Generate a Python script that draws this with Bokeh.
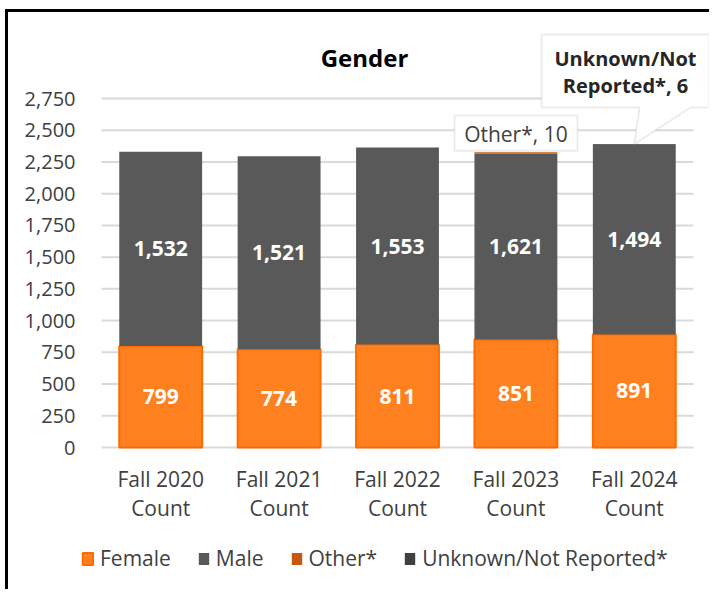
from bokeh.plotting import figure
from bokeh.models import (ColumnDataSource, Range1d, FixedTicker, Legend, LegendItem,
                          LabelSet, Label, BoxAnnotation, PolyAnnotation, NumeralTickFormatter)
from bokeh.core.properties import value
from bokeh.embed import file_html
from bokeh.resources import INLINE

# ---------------- data ----------------
categories = ["Fall 2020\nCount", "Fall 2021\nCount", "Fall 2022\nCount", "Fall 2023\nCount", "Fall 2024\nCount"]
female = [799, 774, 811, 851, 891]
male = [1532, 1521, 1553, 1465, 1494]          # bar heights as drawn
male_label_text = ["1,532", "1,521", "1,553", "1,621", "1,494"]  # labels as printed
other = [0, 0, 0, 10, 0]
unknown = [0, 0, 0, 0, 6]
series = ["Female", "Male", "Other*", "Unknown/Not Reported*"]
y_ticks = [0, 250, 500, 750, 1000, 1250, 1500, 1750, 2000, 2250, 2500, 2750]

FONT = "Open Sans"
idx = list(range(len(categories)))
totals = [f + m + o + u for f, m, o, u in zip(female, male, other, unknown)]

# ---------------- geometry (page pixels) ----------------
OX, OY = 8, 12                 # canvas origin on the page (after border)
W, H = 712 - OX, 592 - OY
frame_left_page = 81
cat0_page, px_per_cat = 160.2, 118.4
zero_page, px_per_unit = 447, 349 / y_ticks[-1]


def xd(page_x):
    return (page_x - cat0_page) / px_per_cat


def yd(page_y):
    return (zero_page - page_y) / px_per_unit


src = ColumnDataSource(dict(x=idx, female=female, male=male, other=other, unknown=unknown))

p = figure(width=W, height=H, output_backend="svg", toolbar_location=None,
           x_range=Range1d(xd(frame_left_page), xd(712)), y_range=Range1d(yd(592), yd(OY)),
           min_border_left=frame_left_page - OX, min_border_right=0, min_border_top=0,
           min_border_bottom=0)
p.outline_line_color = None
p.background_fill_color = "white"
p.border_fill_color = "white"
p.styles = {"margin-left": "5px", "margin-top": "9px",
            "border-left": "3px solid black", "border-top": "3px solid black"}

# gridlines over the category span
p.segment(x0=[-0.5] * len(y_ticks), x1=[len(categories) - 0.5] * len(y_ticks),
          y0=y_ticks, y1=y_ticks, line_color="#D9D9D9", line_width=2)

renderers = p.vbar_stack(["female", "male", "other", "unknown"], x="x", width=0.7, source=src,
                         fill_color=["#FF801F", "#595959", "#C65911", "#404040"],
                         line_color=["#FF6A00", "#595959", "#C65911", "#404040"],
                         line_width=[2, 0, 0, 0],
                         line_alpha=[1, 0, 0, 0])

# y axis
p.yaxis.ticker = FixedTicker(ticks=y_ticks)
p.yaxis.formatter = NumeralTickFormatter(format="0,0")
p.yaxis.axis_line_color = None
p.yaxis.major_tick_line_color = None
p.yaxis.minor_tick_line_color = None
p.yaxis.major_label_text_font = FONT
p.yaxis.major_label_text_font_size = "20px"
p.yaxis.major_label_text_color = "#404040"
p.yaxis.major_label_standoff = 0
p.xaxis.visible = False
p.xgrid.grid_line_color = None
p.ygrid.grid_line_color = None

# category labels (two lines each)
cat_src = ColumnDataSource(dict(x=idx,
                                l1=[c.split("\n")[0] for c in categories],
                                l2=[c.split("\n")[1] for c in categories],
                                y1=[yd(478)] * len(idx), y2=[yd(507)] * len(idx)))
for ycol, tcol in (("y1", "l1"), ("y2", "l2")):
    p.add_layout(LabelSet(x="x", y=ycol, text=tcol, source=cat_src, text_align="center",
                          text_baseline="middle", text_color="#404040", text_font=value(FONT),
                          text_font_size="21px"))

# data labels
lab_src = ColumnDataSource(dict(
    x=idx,
    fy=[f / 2 for f in female],
    my=[f + m / 2 for f, m in zip(female, male)],
    ft=[f"{v:,}" for v in female],
    mt=male_label_text,
))
for ycol, tcol in (("fy", "ft"), ("my", "mt")):
    p.add_layout(LabelSet(x="x", y=ycol, text=tcol, source=lab_src, text_align="center",
                          text_baseline="middle", text_color="white", text_font=value(FONT),
                          text_font_style="bold", text_font_size="21px"))

# title
p.add_layout(Label(x=xd(364), y=yd(57), text="Gender", text_align="center", text_baseline="alphabetic",
                   text_font=FONT, text_font_style="bold", text_font_size="24px", text_color="black"))

# Other* callout (box above 2023 bar)
p.add_layout(BoxAnnotation(left=xd(454), right=xd(577), bottom=totals[3] + 13, top=yd(115),
                           fill_color="white", fill_alpha=1, line_color="#BFBFBF", line_width=2,
                           level="overlay"))
p.add_layout(Label(x=3.0, y=yd(133), text=f"{series[2]}, {other[3]}", text_align="center",
                   text_baseline="middle", text_font=FONT, text_font_size="21px", text_color="#404040",
                   level="overlay"))

# Unknown callout (box with pointer to 2024 bar)
L, R, B, T = xd(541), xd(709), yd(107), yd(34)
pl, pr = xd(639), xd(690)
p.add_layout(PolyAnnotation(xs=[L, pl, 4, pr, R, R, L], ys=[B, B, totals[4], B, B, T, T],
                            fill_color="white", fill_alpha=1, line_color="#BFBFBF", line_width=2,
                            level="overlay"))
p.add_layout(Label(x=xd(625), y=yd(58), text="Unknown/Not", text_align="center", text_baseline="middle",
                   text_font=FONT, text_font_style="bold", text_font_size="20px", text_color="#262626",
                   level="overlay"))
p.add_layout(Label(x=xd(625), y=yd(85), text=f"Reported*, {unknown[4]}", text_align="center",
                   text_baseline="middle", text_font=FONT, text_font_style="bold",
                   text_font_size="20px", text_color="#262626", level="overlay"))

# legend (inside the frame, below the category labels)
legend = Legend(items=[LegendItem(label=s, renderers=[r]) for s, r in zip(series, renderers)],
                orientation="horizontal", location=(0, 20), padding=0, margin=0,
                spacing=26, label_standoff=6, glyph_width=13, glyph_height=15,
                label_text_font=FONT, label_text_font_size="21px", label_text_color="#404040",
                border_line_color=None, background_fill_alpha=0)
p.add_layout(legend, "center")

open("out.html", "w").write(file_html(p, INLINE))
